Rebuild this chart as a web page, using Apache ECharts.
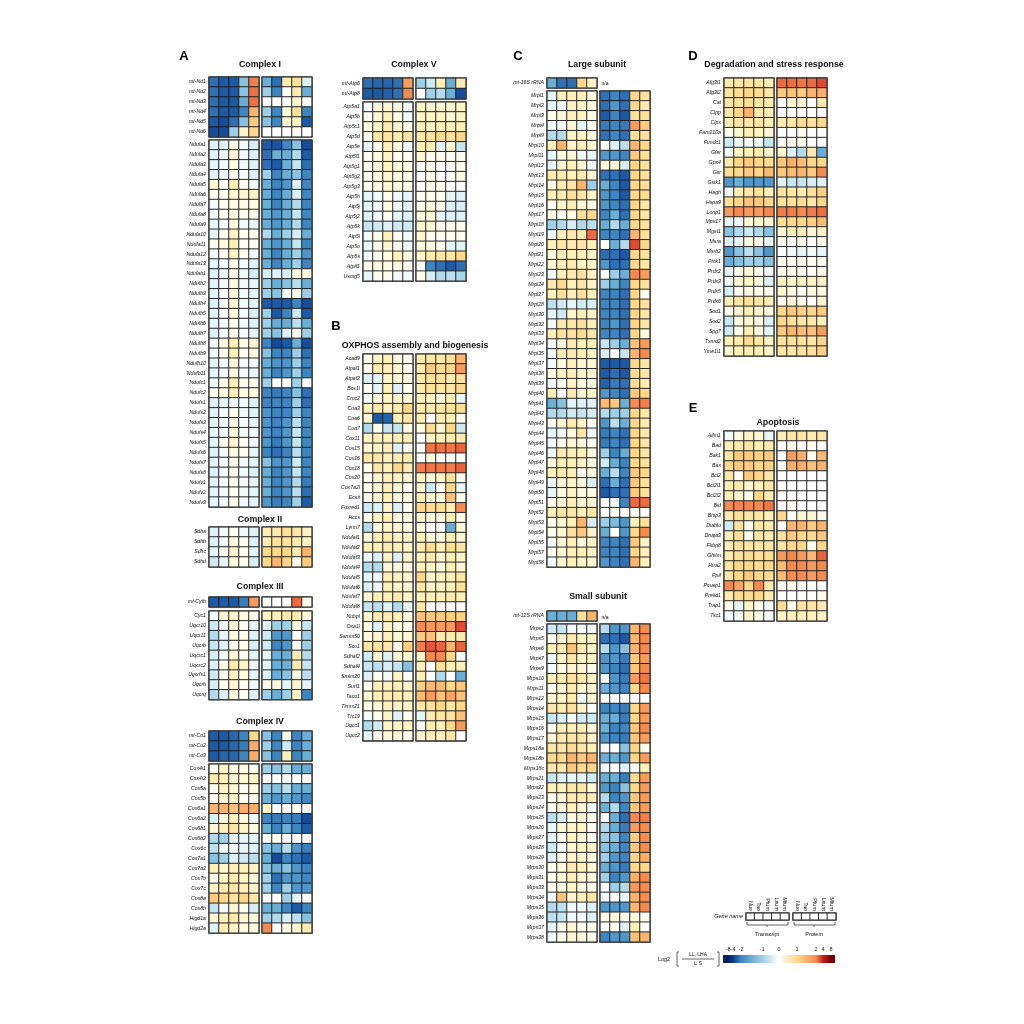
<!DOCTYPE html>
<html><head><meta charset="utf-8">
<style>html,body{margin:0;padding:0;background:#fff}#c{width:1024px;height:1024px;filter:blur(.45px)}</style>
<script src="https://cdn.jsdelivr.net/npm/echarts@6/dist/echarts.min.js"></script>
</head><body><div id="c"></div>
<script>
// ---------- DATA (log2 ratio; each row: Nuc..Mfum) ----------
const sampleNames=['Nuo','Tao','Pfum','Lxum','Mfum'];
const legendTicks=[-8,-4,-2,-1,0,1,2,4,8];

const c1TopLabels=['mt-Nd1','mt-Nd2','mt-Nd3','mt-Nd4','mt-Nd5','mt-Nd6'];
const c1TopT=[[-2.5,-3,-3,-1.2,2.2],[-2.5,-3,-3,-1.2,2.4],[-2.5,-3,-3,-1.5,2.4],[-2.5,-3,-3,-2,1.5],[-3,-3.5,-2.5,-1.2,1.2],[-3.5,-3.5,-1,.4,1]];
const c1TopP=[[-1.5,-2.5,.6,.8,-.3],[-1,-2,0,.6,-1.5],[0,0,0,.3,0],[-1,-2,.2,.8,-2],[-1.2,-2,.3,.4,-3],[0,0,0,.1,0]];
const c1Labels=['Ndufa1','Ndufa2','Ndufa3','Ndufa4','Ndufa5','Ndufa6','Ndufa7','Ndufa8','Ndufa9','Ndufa10','Ndufa11','Ndufa12','Ndufa13','Ndufab1','Ndufb2','Ndufb3','Ndufb4','Ndufb5','Ndufb6','Ndufb7','Ndufb8','Ndufb9','Ndufb10','Ndufb11','Ndufc1','Ndufc2','Ndufs1','Ndufs2','Ndufs3','Ndufs4','Ndufs5','Ndufs6','Ndufs7','Ndufs8','Ndufv1','Ndufv2','Ndufv3'];
const c1T=[[-.3,-.3,.2,-.1,-.4],[-.2,-.1,.3,-.1,-.3],[-.2,-.1,.2,-.1,-.3],[-.3,-.2,.1,-.1,-.3],[.3,.1,.5,.1,-.1],[.1,.1,.3,.3,.4],[-.1,.1,.2,.2,.2],[-.1,.1,.2,.1,.1],[-.2,-.1,.2,-.1,-.2],[-.2,.1,.4,.1,.1],[.1,.2,.5,.1,.1],[-.1,.1,.4,.1,-.1],[-.2,-.1,.1,-.1,-.3],[-.3,-.1,.1,-.1,-.4],[-.2,-.1,.2,-.1,-.2],[-.2,-.1,.2,-.1,-.2],[-.3,-.1,.3,-.1,-.2],[-.2,-.1,.2,-.1,-.3],[-.2,-.1,.1,-.1,-.3],[-.3,-.1,.1,-.1,-.2],[-.1,.2,.5,.2,.3],[-.1,.1,.5,.1,.2],[-.2,-.1,.2,-.1,-.1],[-.2,-.1,.2,-.1,-.2],[-.1,.1,.5,.1,.1],[.1,.2,.5,.2,.2],[-.3,-.2,-.1,-.1,-.3],[-.3,-.1,.1,-.1,-.3],[-.2,-.1,.1,-.1,-.2],[-.2,-.1,.2,-.1,-.1],[-.2,.1,.3,.1,-.1],[-.3,-.1,.2,.1,-.2],[-.2,-.1,.1,-.1,-.2],[-.3,-.1,.1,-.1,-.3],[-.2,-.1,.1,-.1,-.2],[-.2,-.1,.1,-.1,-.2],[-.2,-.1,.1,-.1,-.2]];
const c1P=[[-3,-3.2,-2,-1.2,-3.5],[-2.5,-1.5,-1.5,-.8,-3],[-2.5,-3,-1.5,-.6,-2.5],[-1,-2,-1.5,-1.2,-2],[-1.5,-2,-1.8,-.3,-2],[-1.5,-2,-1.5,-.3,-2],[-1.5,-2,-1.5,-.8,-2],[-1.5,-1.8,-1.5,-.6,-2],[-1.5,-1.8,-1.5,-.8,-2],[-.8,-1.5,-1,-.4,-1.5],[-1.5,-1.8,-1.5,-.6,-2],[-1.5,-2,-1.5,-1,-1.8],[-1.5,-2,-1.5,-1,-2],[-.4,-.3,-.4,.2,.2],[-1,-1.5,-1.2,-.7,-1.5],[-1,-1.2,-.1,.1,-1],[-3,-3,-3,-2,-3.5],[-1,-3,-2,-.5,-3],[-1,-1.5,-1.5,-.7,-1.5],[-1,-1.2,-.3,.1,-1],[-2,-3.5,-3,-1.5,-3.5],[-1.2,-2,-2,-1,-2.5],[-1.5,-1.8,-1.8,-1,-2],[-1.5,-2,-1.8,-1,-2],[-1,0,0,-1,0],[-2,-2.2,-2,-1.2,-2.5],[-2,-2,-2,-1,-2.5],[-1.8,-2,-2,-1,-2],[-1.8,-2,-1.8,-.7,-2],[-1.8,-2,-1.8,-.6,-2],[-1.8,-2.2,-1.8,-.6,-2],[-2,-2.5,-2,-.7,-2],[-1.2,-1.8,-1.8,-.5,-2],[-1.5,-2,-1.8,-.6,-2],[-1.5,-2,-1.8,-.8,-2.2],[-1.5,-2,-1.8,-.7,-2.5],[-1.8,-2.2,-2,-1,-3]];

const c2Labels=['Sdha','Sdhb','Sdhc','Sdhd'];
const c2T=[[-.3,-.1,.1,-.1,-.3],[-.3,-.1,.2,.1,-.3],[-.2,.1,.3,.1,-.2],[-.5,-.2,.2,.1,-.4]];
const c2P=[[.5,.6,.8,.7,.4],[.5,.8,.8,.6,.4],[1,1,1,.6,1.5],[1,1.5,1,.1,1.2]];

const c3TopLabels=['mt-Cytb'];
const c3TopT=[[-3,-3,-3,-2.2,1.8]];
const c3TopP=[[0,0,0,2.5,.1]];
const c3Labels=['Cyc1','Uqcr10','Uqcr11','Uqcrb','Uqcrc1','Uqcrc2','Uqcrfs1','Uqcrh','Uqcrq'];
const c3T=[[-.1,.3,.4,.2,.1],[-.5,-.1,.3,.1,-.2],[-.8,-.2,.2,.1,-.3],[-.6,-.3,.1,.1,-.3],[-.4,-.1,.3,.1,-.2],[-.3,.1,.6,.4,-.1],[-.5,.1,.4,.2,-.2],[-.4,.1,.3,.1,-.1],[-.8,-.3,.2,.1,-.3]];
const c3P=[[.4,.5,.6,.6,.2],[-.2,-1,-1,.2,-.6],[-.5,-1.8,-1.8,.1,-1],[-.5,-2,-1.8,.1,-1],[-.2,-1.5,-1.5,.6,-.8],[-.2,-1.5,-1.5,.6,-.6],[-.3,-1.5,-1.2,.2,-.7],[.1,.2,-.2,.3,-.2],[-1,-1.5,-1,.4,-2]];

const c4TopLabels=['mt-Co1','mt-Co2','mt-Co3'];
const c4TopT=[[-3,-3,-2.7,-2,1],[-3,-3,-2.7,-2.2,1.6],[-3,-2.7,-2.7,-2,1.6]];
const c4TopP=[[-1.2,-2,.1,-2,-1.5],[-1,-2,-.5,-2,-1.5],[-1.2,-2,.5,-2,-1.5]];
const c4Labels=['Cox4i1','Cox4i2','Cox5a','Cox5b','Cox6a1','Cox6a2','Cox6b1','Cox6b2','Cox6c','Cox7a1','Cox7a2','Cox7b','Cox7c','Cox8a','Cox8b','Higd1a','Higd2a'];
const c4T=[[.1,.4,.2,.2,.1],[.6,.5,.3,.3,.4],[.1,.4,.3,.1,.2],[.1,.3,.4,.1,.1],[1.5,1.5,1.3,1.6,1.6],[-.3,.2,.5,.2,-.1],[.3,.5,.7,.4,.2],[-.8,-1,-.3,-.2,-.2],[-.7,-.1,-.1,-.2,-.3],[-1.2,-1,-.3,-.5,-.7],[.5,.4,.5,.5,.4],[.1,.4,.6,.4,.2],[.4,.6,.7,.5,.4],[1.2,1,.8,1,.7],[-.6,-.1,.3,.1,-.4],[.3,.5,.7,.3,.2],[-.3,.6,.4,.2,.2]];
const c4P=[[-1,-1.2,-.8,-1.5,-1.5],[0,0,0,0,0],[-1,-1.2,-.7,-1.5,-1.5],[-1.5,-1.8,-1.5,-1.8,-2],[.4,-.1,0,.1,0],[-2,-2.2,-2,-2.2,-3.5],[-1.5,-2,-1.5,-2,-3],[0,.1,0,0,0],[-1.2,-1.5,-.8,-1.8,-2.2],[-1.5,-3.5,-2,-2.5,-3],[-1.2,-1.5,-1.2,-1.8,-2],[-1,-2.5,-1.8,-1.8,-2],[-1,-2,-1,-1.8,-1.8],[0,0,-1,-.2,0],[-1.5,-1.5,-2,-3,-2],[-1,-.8,-.4,-.7,-1.2],[2,0,.2,.3,.6]];

const c5TopLabels=['mt-Atp6','mt-Atp8'];
const c5TopT=[[-2.5,-2.7,-2.7,-2.5,1.8],[-3,-3,-2.8,-2.5,2]];
const c5TopP=[[-1,-.5,.5,-1.5,.6],[0,-1,-.8,-1.5,-3.5]];
const c5Labels=['Atp5a1','Atp5b','Atp5c1','Atp5d','Atp5e','Atp5f1','Atp5g1','Atp5g2','Atp5g3','Atp5h','Atp5j','Atp5j2','Atp5k','Atp5l','Atp5o','Atp5s','Atpif1','Usmg5'];
const c5T=[[-.1,.2,.3,.2,-.1],[.1,.3,.5,.2,-.1],[.2,.4,.6,.3,.2],[.1,.7,.7,.6,.7],[-.2,.1,.5,.2,-.1],[.1,.2,.4,.1,.1],[.1,.2,.4,.2,.2],[.1,.2,.3,.2,.1],[.1,.2,.3,.2,.1],[-.2,-.1,.1,-.1,-.2],[-.2,-.1,.2,-.1,-.2],[-.3,-.1,.1,-.2,-.3],[-.6,-.5,-.3,-.5,-.5],[-.1,.1,.5,.1,-.1],[-.2,.1,.3,.1,-.1],[-.1,.1,.2,.5,.2],[.1,.2,.2,.2,.1],[-.2,.1,.1,-.1,-.1]];
const c5P=[[.4,.3,.3,.3,.4],[.4,.4,.4,.3,.4],[.5,.4,.5,.5,.5],[.7,.8,.9,.8,1],[.5,.5,-.3,.3,-.6],[.3,.1,.1,.1,.1],[0,.1,0,0,.1],[0,.1,0,0,.2],[0,.1,.1,0,0],[.1,.1,.1,-.2,-.3],[.1,.2,.1,-.3,-.4],[.2,.2,-.2,-.3,-.3],[.3,.3,.1,.1,.1],[.3,.1,.1,.1,.1],[.2,.2,.1,-.2,-.3],[.4,.6,.7,.7,1],[0,-2,-2.5,-3,-2.5],[.1,-.4,-.8,-.7,-.9]];

const oxLabels=['Acad9','Atpaf1','Atpaf2','Bcs1l','Cmc2','Coa3','Coa6','Coa7','Cox11','Cox15','Cox16','Cox18','Cox20','Cox7a2l','Ecsit','Foxred1','Hccs','Lyrm7','Ndufaf1','Ndufaf2','Ndufaf3','Ndufaf4','Ndufaf5','Ndufaf6','Ndufaf7','Ndufaf8','Nubpl','Oxa1l','Samm50','Sco1','Sdhaf2','Sdhaf4','Smim20','Surf1','Taco1','Timm21','Ttc19','Uqcc1','Uqcc2'];
const oxT=[[.1,.4,.5,.2,.1],[.1,.6,.5,.3,.1],[-.3,-.2,.4,.3,.2],[.1,-.2,.5,-.3,.1],[-.1,.2,.4,.3,.3],[.5,.6,.5,.6,1],[.3,-3,-2.8,.5,.7],[-.8,.1,-.6,-.6,.2],[.4,.5,.5,.5,.5],[.3,.4,.5,-.3,.1],[.7,.7,.5,.5,.6],[.1,.7,.5,1,.6],[.1,.3,.5,.4,.3],[.1,.3,.5,.3,.1],[.1,.3,.5,.2,.2],[-.5,-.3,.4,-.3,.1],[.1,.4,.5,.2,.2],[-.8,.2,.4,.3,.2],[.2,.5,.6,.4,.4],[.5,.5,.6,.5,.4],[-.1,-.3,.4,-.3,.4],[-.8,-.8,.3,.2,.2],[-.2,-.1,.5,.4,.3],[-.3,-.1,.5,.4,.3],[.3,.5,.5,.6,.4],[-.6,-.7,-.3,-.8,-.2],[.3,.6,.6,.5,.2],[.2,-.3,.4,.2,.1],[.2,.3,.5,.3,.3],[.7,.8,.7,.1,1.1],[-.5,.3,-.3,.3,.3],[-.6,-.7,-.4,-.6,-1.2],[-.3,.1,-.1,.4,0],[.1,.5,.5,.5,.4],[.3,.5,.6,.6,.5],[.2,.3,.5,.4,.4],[-.1,.1,.4,-.3,.1],[-.8,-.5,.4,.4,.4],[-.2,.1,.3,.3,.1]];
const oxP=[[.6,.7,.7,.8,1.5],[.6,1.2,.9,1,1.8],[.7,.8,.8,.6,.8],[.6,.8,.7,.7,1],[.5,.4,.2,.5,-.2],[.6,.6,.7,.8,.9],[.6,0,.5,.5,.1],[.2,.9,.3,1,-.5],[0,.4,.5,.6,.6],[0,2.3,2.4,2.3,2.6],[0,.2,0,0,0],[2.2,2.3,2.3,2.2,2.6],[.4,.2,.4,.8,.1],[.3,-.5,.1,1,-.2],[.5,.3,.2,1.3,.1],[1,.9,.9,.5,2],[.3,.2,.2,.5,.2],[.2,0,0,-1.5,.3],[.5,.2,.2,.5,.3],[.6,.9,.5,.9,.7],[.5,.6,.3,.5,.4],[.5,.4,.2,.5,.3],[1,.3,.4,.5,.7],[.7,.4,.4,.5,.8],[.5,.5,.5,.6,.5],[.7,0,0,0,0],[1.3,1.2,1.2,1.1,1.1],[2,1.8,1.8,1.8,3],[1.2,1.3,.6,.6,.6],[2.2,2.8,2.6,1.5,2.6],[.4,2,2,1,-.1],[.5,0,.8,.5,.5],[.5,0,-.8,0,-1.5],[1.1,1.4,1.4,1,1.2],[1.4,1.8,1.3,1.7,1.3],[.7,.8,1,.7,1],[-.2,.6,.7,.8,1.3],[-.1,.6,.5,1,1.8],[.3,.5,.5,.7,0]];

const lgTopLabels=['mt-16S rRNA'];
const lgTopT=[[-1.5,-2.5,-2.5,1,.4]];
const lgLabels=['Mrpl1','Mrpl2','Mrpl3','Mrpl4','Mrpl9','Mrpl10','Mrpl11','Mrpl12','Mrpl13','Mrpl14','Mrpl15','Mrpl16','Mrpl17','Mrpl18','Mrpl19','Mrpl20','Mrpl21','Mrpl22','Mrpl23','Mrpl24','Mrpl27','Mrpl28','Mrpl30','Mrpl32','Mrpl33','Mrpl34','Mrpl35','Mrpl37','Mrpl38','Mrpl39','Mrpl40','Mrpl41','Mrpl42','Mrpl43','Mrpl44','Mrpl45','Mrpl46','Mrpl47','Mrpl48','Mrpl49','Mrpl50','Mrpl51','Mrpl52','Mrpl53','Mrpl54','Mrpl55','Mrpl57','Mrpl58'];
const lgT=[[-.2,.5,.5,.5,.2],[-.2,-.1,.4,.4,.2],[.1,.3,.5,.4,.2],[-.1,-.1,.3,-.2,.1],[-.8,-.8,.4,.4,.2],[.5,1.5,.4,.5,.3],[-.2,.2,.3,-.1,-.2],[-.2,.3,.5,.3,-.1],[.6,.6,.5,.6,.3],[.2,.6,.7,1.5,-1],[.5,.6,.8,.7,.4],[.1,.4,.5,.3,.2],[.2,.1,.2,.8,.9],[-1,-.8,-.4,-.8,-.7],[-.1,.5,.6,.6,2.5],[.5,.7,.6,.7,.5],[.2,.5,.5,.5,.4],[.3,.5,.6,.4,.4],[-.1,.5,.6,.8,.4],[.6,.9,.5,.7,.4],[.5,.8,.5,.8,.5],[-.7,-.5,-.2,-.5,-.4],[-.2,-.5,.4,.5,.4],[-.1,.6,.7,.8,.5],[.5,.8,.8,.9,.7],[-.1,.2,.6,.5,.5],[-.1,.5,.6,.5,.4],[-.1,.2,.5,.3,.3],[.2,.4,.5,.4,.3],[-.1,.1,.4,.2,.2],[.5,0,.6,.3,.4],[-1.5,-1.2,-.2,-.3,-.3],[-.8,-.8,-.5,-.6,-.4],[.1,.3,.6,.4,.1],[-.2,-.1,.2,.7,-.1],[-.1,.1,.3,.2,.1],[-.1,.6,.5,.5,.2],[.2,.5,.5,.4,.2],[.5,.6,.5,.1,.2],[-.1,.3,.4,.2,-.3],[-.2,.2,.4,.2,.2],[.1,.3,.5,.3,.3],[.5,.7,.7,.5,.7],[.1,.3,.5,1.5,-.4],[.1,.3,.8,1.2,.4],[-.1,.3,.5,.2,.4],[.1,.3,.5,.5,.4],[-.1,.3,.5,.4,.3]];
const lgP=[[-2.5,-2,-2.5,1,.8],[-2.5,-1.8,-2.5,1,.6],[-3,-2,-3,.8,.8],[-2.2,-2,-2.2,1.8,1.2],[-2.5,-2,-2.5,.8,.8],[0,-.3,-.7,1.5,1],[-1.8,-1.8,-2,1.2,.8],[.2,.3,-.4,1,.8],[-2.5,-2.5,-3,1,.8],[-1.5,-2,-3,1,.8],[-1.8,-2,-3,1,.9],[-1.8,-2,-2.5,1,.7],[-2,-1.5,-2.5,1,.7],[-1.5,-.8,-1.5,1,.8],[-2,-2,-2.5,1.5,.8],[0,-1.5,-.8,3,1],[-2.5,-2.5,-3,1,.8],[-1.8,-2.5,-2.5,1,.7],[0,-1,-1.5,2,1.8],[-1,-1.5,-2,1,.8],[-2,-2,-2.5,1,.1],[-2,-2,-2.5,1,.8],[-2,-2,-2.5,1,.7],[-2,-1.8,-2.5,1,.7],[-2,-2,-2.5,1,.2],[-.6,-1,-1.5,1.3,1.8],[-.4,0,-.6,1.5,2],[-3,-3,-3,1,.7],[-3,-2.5,-3,.9,.7],[-2.8,-2.2,-2.5,.9,.6],[-1.8,-2,-2.5,1.2,1],[1.4,1.2,-1.5,2,2.2],[-.8,-1,-1,1,.7],[-1.8,-.7,-1.5,1,.6],[-2.2,-2,-2.5,1,.6],[-2.2,-2,-2.5,1,.7],[-1,-2,-1.5,1,.7],[-.5,-1.5,-2,1,.8],[-1.5,-.7,-2,1.2,1],[-2.5,-1.5,-2.5,1.2,.8],[-3,-2.5,-2.5,1.2,.8],[0,-.1,-2,2.5,2.5],[0,.1,0,.1,0],[-1,-1.3,-1.8,.4,.8],[-1.5,0,-1.8,1,2],[-2,-2,-2.5,1.2,.4],[-2,-2,-2.5,1,.5],[-1.8,-2,-2.5,1.5,.5]];

const smTopLabels=['mt-12S rRNA'];
const smTopT=[[-1.5,-1.5,-1.5,.8,1.5]];
const smLabels=['Mrps2','Mrps5','Mrps6','Mrps7','Mrps9','Mrps10','Mrps11','Mrps12','Mrps14','Mrps15','Mrps16','Mrps17','Mrps18a','Mrps18b','Mrps18c','Mrps21','Mrps22','Mrps23','Mrps24','Mrps25','Mrps26','Mrps27','Mrps28','Mrps29','Mrps30','Mrps31','Mrps33','Mrps34','Mrps35','Mrps36','Mrps37','Mrps38'];
const smT=[[-.5,-.6,-.1,-.1,-.1],[.1,.3,.6,.4,.4],[.5,.6,1.3,.6,.4],[-.1,.4,.7,.4,.4],[-.1,.2,.3,.3,.1],[.5,.6,.8,.7,.4],[.1,.3,.6,.3,.3],[.3,.4,.6,-.1,.3],[.7,.6,.8,.4,0],[-.6,-.4,-.1,-.5,-.5],[.1,.5,.5,.5,.3],[.3,.6,.7,.7,.4],[.7,.7,.9,.7,.5],[1,1,1.5,1.2,1.5],[.7,.7,1.2,1,1],[-.6,-.3,-.2,-.2,-.5],[.5,.5,.7,.7,.3],[.1,.3,.6,.6,.6],[.1,.3,.5,.3,-.1],[-.7,-.4,.2,.3,.1],[-.2,.3,.4,.4,.1],[-.2,.1,.4,.3,.1],[-.5,-.1,.3,.4,.4],[-.3,.1,.4,.3,.2],[.1,.3,.6,.5,.3],[.1,.3,.5,.3,.2],[.1,.2,.4,.2,.1],[-.1,1.3,.4,.5,.7],[-.8,-.7,-.1,-.1,-.3],[-.7,-.6,-.1,-.1,-.3],[-.2,.1,.3,.1,.1],[-.1,.1,.3,.2,.1]];
const smP=[[-.8,-1.8,-1.8,1.5,2],[-2.5,-2.5,-3,1.5,2],[-.8,-1.8,-1.2,1.5,2],[-1.8,-1.8,-2.2,1.2,1.8],[-1.8,-2,-2.5,1.2,2],[-.1,-1.8,-2.2,1.8,2.3],[-1.5,-1.8,-2,1,2],[0,0,0,0,0],[-2,-2,-2.2,1,1.8],[-1.5,-1.5,-2.2,1,1.8],[-1.5,-2,-2,1.2,2],[-1.8,-2,-2.2,1.2,1.8],[-.1,0,-1.2,1,.1],[-1.5,-1.5,-1.8,1,1.8],[-.1,0,-.3,0,.5],[-1.5,-1.5,-2.2,.9,1.8],[-1.8,-2,-1.2,1,1.8],[-.8,-2,-1.8,1.2,1.8],[-1.5,-.8,-2,1.2,1.8],[0,-1.5,-2.5,2,2.2],[-.8,-1.5,-2.2,1.8,2],[-1,-1.2,-2,1.1,2],[-1.2,-1.5,-2,1.2,2],[-1,-1.8,-2,1,1.6],[-1.5,-1.8,-2.2,1,1],[-1,-2,-1.8,1.6,2],[0,-1,-.8,1.8,2],[-.1,0,-.2,1.5,2],[-1.8,-1.8,-1.8,1.5,2],[.1,.2,.1,.2,.1],[0,.1,-.3,.5,0],[-2,-1.8,-1.8,1.3,1.5]];

const degLabels=['Afg3l1','Afg3l2','Cat','Clpp','Clpx','Fam210a','Fundc1','Gfer','Gpx4','Gsr','Gstk1','Hagh','Hspa9','Lonp1','Mpv17','Mgst1','Msra','Msrb2','Pink1','Prdx2','Prdx3','Prdx5','Prdx6','Sod1','Sod2','Spg7','Txnrd2','Yme1l1'];
const degT=[[.6,.7,.8,.7,.5],[.8,.9,1,.9,.7],[.7,.8,.9,.7,.6],[.7,1,1.5,.6,.5],[.5,.7,.7,.7,.5],[.1,.3,.5,.4,.3],[-.5,-.1,-.1,-.1,-.6],[-.1,.4,.5,.6,.3],[.6,1,1.2,1,.9],[.9,1,1.2,1,1.4],[-1.8,-1.5,-1.8,-1.8,-1.8],[-.1,.5,.7,.8,.5],[.8,1,1.3,1.2,1],[1.8,2,1.8,1.8,2],[-.2,-.1,.3,.3,.3],[-1.2,-.8,-.5,-.8,-1.2],[-.3,-.2,.2,.1,-.2],[-1.8,-1.2,-.7,-1.2,-1.8],[-1.5,-1.2,-1,-1,-1.2],[-.2,.1,.3,.1,-.1],[-.1,.3,.4,.2,-.3],[-.4,.1,.2,.1,.1],[.5,.7,.8,.7,.5],[.1,.3,.5,.3,.2],[-.6,.2,.3,.2,-.3],[-.5,.1,.5,.2,-.2],[.5,.6,.9,.7,.4],[.3,.5,.6,.5,.4]];
const degP=[[2.5,2.5,2.3,2.5,3],[1.2,1.3,1.2,1.5,1.6],[0,.3,.3,0,.6],[0,0,0,0,0],[.6,.7,.9,.8,1],[0,0,.1,0,0],[0,.1,.1,0,0],[.3,-.3,-.8,.6,-1.5],[1.2,1.6,1.4,1,1],[1.2,1.4,1.5,1.2,2],[-.3,-.6,-.6,-.4,-.3],[.8,.7,.6,.8,1.1],[.8,.8,.9,.7,1],[2.2,2.2,2,2.2,2.4],[.9,1,1,1.1,1.4],[.3,.5,.5,.3,.4],[.1,0,.1,0,.1],[0,-.1,-.2,-.1,-.2],[.1,.1,.1,.1,.1],[.1,.1,.1,.1,.1],[.4,.3,.4,.4,.4],[.3,.2,.1,.2,.2],[.1,.3,.1,0,.3],[1,1.2,1.1,1,1.2],[1,.8,.7,.7,.5],[1.2,1.5,1.4,1.3,1.8],[.8,.8,.8,.7,1],[.7,.7,.8,.8,1.1]];

const apoLabels=['Aifm1','Bad','Bak1','Bax','Bcl2','Bcl2l1','Bcl2l2','Bid','Bnip3','Diablo','Dnaja3','Fkbp8','Ghitm','Htra2','Ppif','Pmaip1','Prelid1','Trap1','Tsc1'];
const apoT=[[-.1,.2,.4,.3,-.2],[.5,.6,.7,.5,.6],[.7,1.2,1.2,1.1,1.2],[1,1.2,1.2,1,1.1],[.7,.1,1.2,1,.7],[.5,.6,.3,.5,.7],[.5,.3,.1,1,.6],[2,2.1,2.1,2,2.3],[.6,.8,.7,.7,.5],[-.5,.8,.1,.7,.6],[.5,.9,.1,.7,.6],[.5,.8,.7,.7,.7],[.6,.8,.9,.8,.9],[.7,1,1,.9,1],[.7,1,1.2,1,.9],[2,1.7,1,2,.6],[.6,.9,.9,1,.6],[.1,-.2,.4,.1,-.1],[-.1,-.1,.4,.1,-.1]];
const apoP=[[.5,.7,.7,.6,.7],[0,.1,0,.1,0],[0,1.8,1.6,.1,1.4],[0,1.6,1.6,1.3,1.5],[0,0,0,0,0],[0,0,0,0,0],[0,0,0,0,0],[0,.1,0,0,0],[1,0,.3,.3,.1],[0,1.5,1.5,1.2,1.5],[.8,1.2,1,.9,1.2],[.7,1,1,.1,1],[1.8,2,1.8,1.4,2.6],[1.4,2,2,1.8,2],[1.4,2,2,1.8,2],[0,.1,0,0,0],[0,0,0,0,.1],[.9,.1,.8,.7,.6],[.4,.5,.5,.5,.4]];

const keyT=[[0,0,0,0,0]];
const keyP=[[0,0,0,0,0]];

// ---------- STYLE / LAYOUT ----------
const FONT='"Liberation Sans",Arial,sans-serif';
const colorStops=[[-8,'#08205e'],[-4,'#0d3c8c'],[-3,'#1c5aa6'],[-2,'#3f86c0'],[-1.5,'#6aaed6'],[-1,'#9ecfe6'],[-.5,'#cfeaf3'],[-.2,'#e6f5f8'],[0,'#ffffff'],[.2,'#fffbe0'],[.5,'#fff0b8'],[1,'#fdd78a'],[1.5,'#fbb46e'],[2,'#f58a50'],[3,'#e04a30'],[4,'#c4201e'],[8,'#7a0000']];
function hex(c){return [1,3,5].map(i=>parseInt(c.substr(i,2),16));}
function colorAt(v){
  for(let i=1;i<colorStops.length;i++){
    if(v<=colorStops[i][0]+1e-9){
      const [a,ca]=colorStops[i-1],[b,cb]=colorStops[i],t=(v-a)/(b-a),A=hex(ca),B=hex(cb);
      return 'rgb('+A.map((x,k)=>Math.round(x+(B[k]-x)*t)).join(',')+')';
    }
  }
  return colorStops[colorStops.length-1][1];
}
const ramp=[];for(let i=-80;i<=80;i++)ramp.push(colorAt(i/10));

const grids=[],xAxes=[],yAxes=[],series=[],titles=[],graphics=[];
function block(x,y,w,rowH,labels,rows,opt){
  opt=opt||{};
  const g=grids.length,n=rows.length;
  grids.push({left:x,top:y,width:w,height:rowH*n,show:false,containLabel:false});
  xAxes.push({gridIndex:g,type:'category',data:sampleNames,position:'top',
    axisLine:{show:false},axisTick:{show:false},splitLine:{show:false},
    axisLabel:opt.top?{show:true,interval:0,rotate:90,fontSize:5.5,margin:2,color:'#111',fontFamily:FONT}:{show:false}});
  yAxes.push({gridIndex:g,type:'category',inverse:true,data:labels||rows.map((_,i)=>String(i)),
    axisLine:{show:false},axisTick:{show:false},splitLine:{show:false},
    axisLabel:labels?{show:true,interval:0,fontSize:opt.fs||5.2,margin:opt.m||3,color:'#111',fontFamily:FONT,fontStyle:'italic'}:{show:false}});
  const data=[];
  rows.forEach((r,i)=>r.forEach((v,j)=>data.push([j,i,v])));
  series.push({type:'heatmap',xAxisIndex:g,yAxisIndex:g,data,silent:true,progressive:0,animation:false,
    itemStyle:{borderColor:'#1a1a1a',borderWidth:.9},emphasis:{disabled:true}});
  graphics.push({type:'rect',shape:{x,y,width:w,height:rowH*n},z:50,style:{fill:'none',stroke:'#444',lineWidth:1.2}});
}
function panel(xL,xR,y,rowH,labels,T,P){
  block(xL,y,50,rowH,labels,T);
  if(P)block(xR,y,50,rowH,null,P);
}
function head(text,cx,cy){
  titles.push({text,left:cx,top:cy-5,textAlign:'center',padding:0,textStyle:{fontSize:8.8,fontWeight:'bold',color:'#111',fontFamily:FONT}});
}
function letter(text,x,y){
  titles.push({text,left:x,top:y-7,textAlign:'center',padding:0,textStyle:{fontSize:13,fontWeight:'bold',color:'#000',fontFamily:FONT}});
}
function txt(text,x,y,size,align){
  graphics.push({type:'text',x,y,z:60,style:{text,fontSize:size,fontFamily:FONT,fill:'#111',textAlign:align||'center',textVerticalAlign:'middle'}});
}
function poly(points){
  graphics.push({type:'polyline',z:60,shape:{points},style:{stroke:'#222',lineWidth:.7,fill:'none'}});
}

letter('A',184,57);
head('Complex I',260,65);
panel(209,262,77,10,c1TopLabels,c1TopT,c1TopP);
panel(209,262,140,9.92,c1Labels,c1T,c1P);
head('Complex II',260,520);
panel(209,262,527,10,c2Labels,c2T,c2P);
head('Complex III',260,587);
panel(209,262,597,10,c3TopLabels,c3TopT,c3TopP);
panel(209,262,611,9.85,c3Labels,c3T,c3P);
head('Complex IV',260,722);
panel(209,262,731,10,c4TopLabels,c4TopT,c4TopP);
panel(209,262,764,9.95,c4Labels,c4T,c4P);

head('Complex V',414,65);
panel(363,416,78,10.5,c5TopLabels,c5TopT,c5TopP);
panel(363,416,102,9.95,c5Labels,c5T,c5P);
letter('B',336,327);
head('OXPHOS assembly and biogenesis',415,346);
panel(363,416,354,9.92,oxLabels,oxT,oxP);

letter('C',518,57);
head('Large subunit',597,65);
panel(547,600,78,10,lgTopLabels,lgTopT,null);
txt('n/a',605,84,5,'center');
panel(547,600,91,9.92,lgLabels,lgT,lgP);
head('Small subunit',598,597);
panel(547,600,611,10,smTopLabels,smTopT,null);
txt('n/a',605,618,5,'center');
panel(547,600,624,9.94,smLabels,smT,smP);

letter('D',693,57);
head('Degradation and stress response',774,65);
panel(724,777,78,9.93,degLabels,degT,degP);
letter('E',693,409);
head('Apoptosis',778,423);
panel(724,777,431,10,apoLabels,apoT,apoP);

// sample key
block(746,913,43,7,['Gene name'],keyT,{top:true,fs:5.5,m:3});
block(793,913,43,7,null,keyP,{top:true});
poly([[747,922],[747,925],[788,925],[788,922]]);
poly([[794,922],[794,925],[835,925],[835,922]]);
poly([[767,925],[767,927]]);poly([[814,925],[814,927]]);
txt('Transcript',767,934,5.5);
txt('Protein',814,934,5.5);

// colour key (screen positions of the non-linear ticks)
const legX=723,legW=112,legY=955,legH=8;
const tickPx=[728,733,741,762,779,797,816,823,831];
graphics.push({type:'rect',z:60,shape:{x:legX,y:legY,width:legW,height:legH},style:{fill:new echarts.graphic.LinearGradient(0,0,1,0,
  legendTicks.map((v,i)=>({offset:(tickPx[i]-legX)/legW,color:colorAt(v)})))}});
legendTicks.forEach((v,i)=>txt(String(v),tickPx[i],949,5.5));
txt('Log2',664,959,5.5);
poly([[679,952],[677,952],[677,966],[679,966]]);
poly([[717,952],[719,952],[719,966],[717,966]]);
txt('LL, LHA',698,955,5);
poly([[682,959],[714,959]]);
txt('L S',698,964,5);

const chart=echarts.init(document.getElementById('c'),null,{renderer:'canvas',width:1024,height:1024});
chart.setOption({
  animation:false,backgroundColor:'#fff',
  title:titles,grid:grids,xAxis:xAxes,yAxis:yAxes,series,
  visualMap:{show:false,type:'continuous',min:-8,max:8,seriesIndex:series.map((_,i)=>i),inRange:{color:ramp}},
  graphic:graphics
});
</script></body></html>
